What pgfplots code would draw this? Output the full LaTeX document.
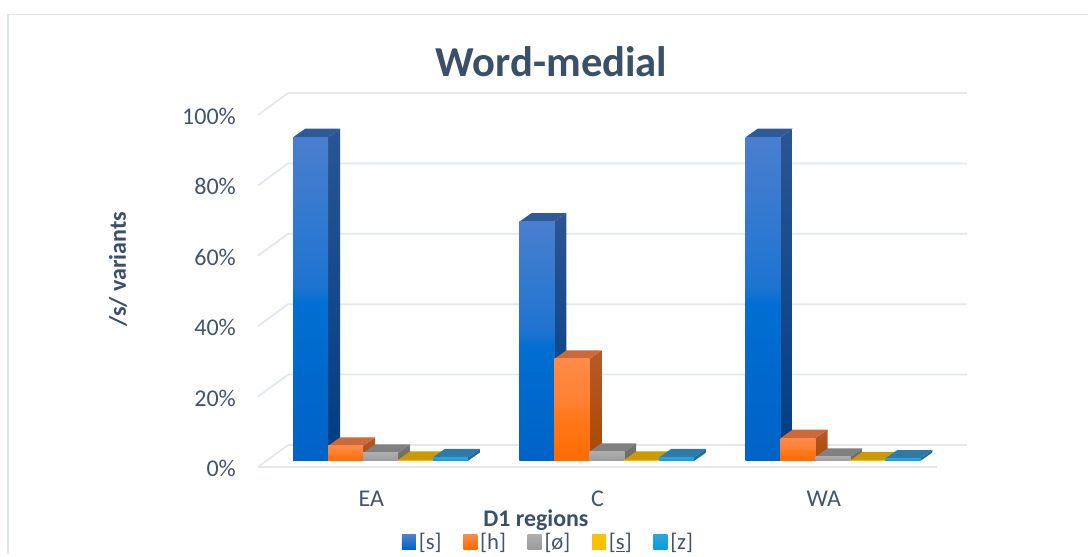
\documentclass[border=0pt]{standalone}
\usepackage{pgfplots}
\pgfplotsset{compat=1.18}
\usepackage{fontspec}
\setmainfont{Carlito}

\definecolor{txt}{HTML}{44546A}
\definecolor{txtb}{HTML}{3A5069}
\definecolor{gridc}{HTML}{E3E7EF}
\definecolor{framec}{HTML}{E1E6EE}

% per series: front top/above mid/below mid/bottom, lid, side top/bottom
\definecolor{sT}{HTML}{4A7FCF}\definecolor{sN}{HTML}{1E74D0}\definecolor{sM}{HTML}{006ED2}\definecolor{sB}{HTML}{0062C6}
\definecolor{sL}{HTML}{2F5A9A}\definecolor{sU}{HTML}{2B5593}\definecolor{sD}{HTML}{003D82}
\definecolor{hT}{HTML}{FF8A48}\definecolor{hN}{HTML}{FF7F30}\definecolor{hM}{HTML}{FF7A20}\definecolor{hB}{HTML}{FF6A00}
\definecolor{hL}{HTML}{CB6A38}\definecolor{hU}{HTML}{B8582A}\definecolor{hD}{HTML}{A84A00}
\definecolor{oT}{HTML}{ADADAD}\definecolor{oN}{HTML}{A6A6A6}\definecolor{oM}{HTML}{A4A4A4}\definecolor{oB}{HTML}{9C9C9C}
\definecolor{oL}{HTML}{808080}\definecolor{oU}{HTML}{747474}\definecolor{oD}{HTML}{6A6A6A}
\definecolor{yT}{HTML}{FFC000}\definecolor{yN}{HTML}{FFC000}\definecolor{yM}{HTML}{FFC000}\definecolor{yB}{HTML}{FFC000}
\definecolor{yL}{HTML}{CC9900}\definecolor{yU}{HTML}{B88A00}\definecolor{yD}{HTML}{B88A00}
\definecolor{zT}{HTML}{2AA5E0}\definecolor{zN}{HTML}{1AA2DF}\definecolor{zM}{HTML}{14A0DF}\definecolor{zB}{HTML}{0A9BDE}
\definecolor{zL}{HTML}{2E7BA8}\definecolor{zU}{HTML}{1A6C9E}\definecolor{zD}{HTML}{1A6C9E}

% the path box covers 25bp to 75bp of a shading
\newcommand{\faceshade}[1]{%
  \pgfdeclareverticalshading{#1face}{100bp}{color(0bp)=(#1B); color(25bp)=(#1B);
    color(49bp)=(#1M); color(52bp)=(#1N); color(75bp)=(#1T); color(100bp)=(#1T)}}
\faceshade{s}\faceshade{h}\faceshade{o}\faceshade{y}\faceshade{z}

\newcommand{\threebar}[3]{% x, value, series letter
  \pgfmathsetmacro{\xa}{#1-0.0773}
  \pgfmathsetmacro{\xb}{#1+0.0773}
  \pgfmathsetmacro{\xc}{#1+0.0773+0.053}
  \pgfmathsetmacro{\xd}{#1-0.0773+0.053}
  \pgfmathsetmacro{\yt}{#2+2.41}
  \addplot[forget plot,draw=none,top color=#3U,bottom color=#3D]
    coordinates {(\xb,0) (\xc,2.41) (\xc,\yt) (\xb,#2)} --cycle;
  \addplot[forget plot,draw=none,fill=#3L]
    coordinates {(\xa,#2) (\xb,#2) (\xc,\yt) (\xd,\yt)} --cycle;
  \addplot[forget plot,ybar,bar width=0.1547,bar shift=0pt,draw=none,shade,shading=#3face]
    coordinates {(#1,#2)};
}
\newcommand{\gridrow}[2]{% front y, back y
  \addplot[forget plot,gridc,line width=1.3pt]
    coordinates {(-0.5414,#1) (-0.4088,#2) (2.592,#2)};
}

\begin{document}
\begin{tikzpicture}
\begin{axis}[
  scale only axis,
  width=816pt, height=415.5pt,
  xmin=-1.6818, xmax=3.1271,
  ymin=-26.42, ymax=130.97,
  axis x line*=bottom, axis y line*=left,
  axis line style={draw=none},
  tick style={draw=none},
  /pgf/number format/assume math mode=true,
  xtick={0,1,2},
  xticklabels={EA,C,WA},
  xticklabel style={anchor=center,xshift=-6.9pt,yshift=41.3pt,font=\fontsize{18}{20}\selectfont,text=txt},
  ytick={0,20,40,60,80,100},
  yticklabel={\pgfmathprintnumber{\tick}\%},
  yticklabel style={anchor=east,xshift=180.4pt,yshift=-5.6pt,font=\fontsize{18}{20}\selectfont,text=txt},
  title={Word-medial},
  title style={at={(axis description cs:0.507,0.8736)},anchor=center,font=\fontsize{32}{36}\selectfont\bfseries,text=txtb},
  xlabel={D1 regions},
  xlabel style={at={(axis description cs:0.4926,0.0614)},anchor=center,font=\fontsize{17.9}{20}\selectfont\bfseries,text=txtb},
  ylabel={/s/ variants},
  ylabel style={at={(axis description cs:0.1085,0.514)},anchor=center,font=\fontsize{18}{20}\selectfont\bfseries,text=txtb},
  legend image code/.code={\path[draw=none,#1] (0pt,-5.4pt) rectangle (10.5pt,5.4pt);},
  legend style={at={(axis description cs:0.5046,0.0216)},anchor=center,draw=none,fill=none,
    legend columns=-1,font=\fontsize{17}{18}\selectfont,text=txt,
    /tikz/every even column/.append style={column sep=14pt},
    nodes={inner xsep=2.2pt}},
]
\addlegendimage{top color=sT,bottom color=sB}\addlegendentry{[s]}
\addlegendimage{top color=hT,bottom color=hB}\addlegendentry{[h]}
\addlegendimage{top color=oT,bottom color=oB}\addlegendentry{[ø]}
\addlegendimage{top color=yT,bottom color=yB}\addlegendentry{[\underline{s}]}
\addlegendimage{top color=zT,bottom color=zB}\addlegendentry{[z]}

% chart frame
\addplot[forget plot,framec,line width=1pt]
  coordinates {(-1.6464,-30) (-1.6464,126.85) (3.2,126.85)};

% walls
\gridrow{-1.7}{4.55}
\gridrow{18.3}{24.55}
\gridrow{38.3}{44.55}
\gridrow{58.3}{64.55}
\gridrow{78.3}{84.55}
\gridrow{98.3}{104.55}
\addplot[forget plot,gridc,line width=1.3pt]
  coordinates {(-0.5414,-1.7) (2.4602,-1.7)};

% EA
\threebar{-0.3085}{92}{s}
\threebar{-0.1543}{4.3}{h}
\threebar{0}{2.3}{o}
\threebar{0.1543}{0.3}{y}
\threebar{0.3085}{1.0}{z}
% C
\threebar{0.6915}{68}{s}
\threebar{0.8457}{29}{h}
\threebar{1}{2.6}{o}
\threebar{1.1543}{0.3}{y}
\threebar{1.3085}{1.0}{z}
% WA
\threebar{1.6915}{92}{s}
\threebar{1.8457}{6.5}{h}
\threebar{2}{1.2}{o}
\threebar{2.1543}{0.2}{y}
\threebar{2.3085}{0.7}{z}
\end{axis}
\end{tikzpicture}
\end{document}
